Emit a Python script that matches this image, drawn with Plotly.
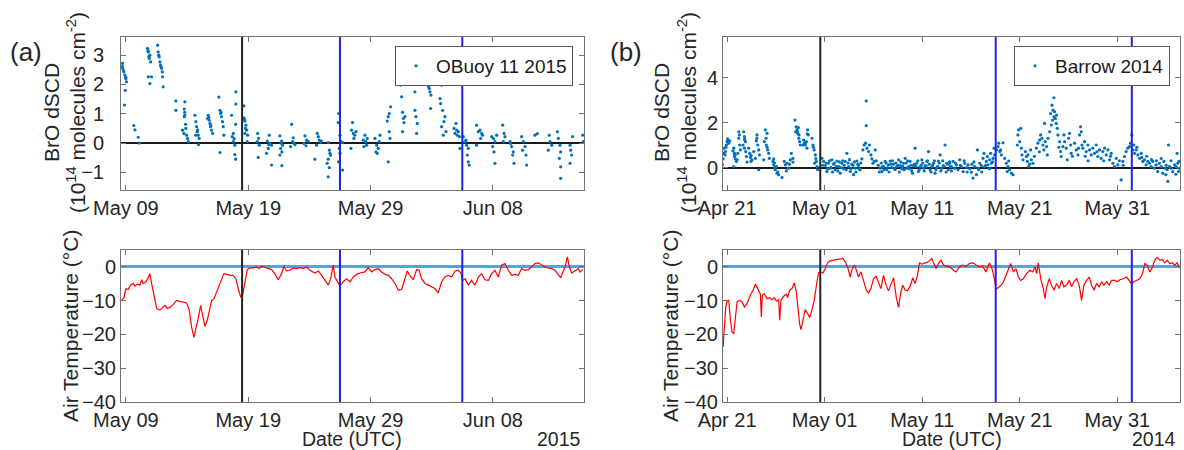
import pandas as pd
import plotly.graph_objects as go
from plotly.subplots import make_subplots

# ---------------- DATA ----------------
# Panel (a) OBuoy 11, 2015 -- day = days after 2015-04-30 00:00 (9.0 = May 09, 32.0 = Jun 01)
obuoy_base = "2015-04-30"
obuoy_bro = [  # (day, BrO dSCD in 1e14 molec/cm2)
    (8.73, 2.72), (8.73, 2.55), (8.84, 2.43), (8.92, 2.32), (9.0, 2.2), (9.05, 2.09), (8.95, 1.8), (8.89, 1.3),
    (8.70, 2.62), (8.80, 2.48), (8.98, 2.25),
    (9.65, 0.6), (9.74, 0.45), (10.01, 0.2), (10.09, 0.0),
    (10.77, 3.23), (10.83, 3.11), (10.96, 3.0), (10.91, 2.89), (11.02, 2.77), (10.83, 2.26), (11.1, 2.26),
    (10.96, 2.03), (10.80, 3.15), (10.88, 2.95),
    (11.59, 3.34), (11.64, 3.11), (11.72, 2.94), (11.78, 2.77), (11.83, 2.66), (11.92, 2.55), (11.97, 2.43),
    (12.0, 2.26), (12.05, 1.92), (11.68, 3.0), (11.88, 2.6),
    (13.09, 1.44), (13.09, 1.12),
    (13.82, 1.41), (13.77, 1.16), (13.82, 0.95), (13.77, 0.9), (13.88, 0.64), (13.63, 0.44), (13.74, 0.33),
    (13.96, 0.27), (14.04, 0.16), (14.1, 0.05), (13.8, 1.05), (13.9, 0.5),
    (14.64, 0.95), (14.72, 0.73), (14.78, 0.56), (14.83, 0.39), (14.91, 0.27), (14.99, 0.16), (14.94, -0.05),
    (14.72, 0.27), (14.86, 0.45),
    (15.73, 0.95), (15.81, 0.78), (15.87, 0.67), (15.92, 0.56), (16.0, 0.44), (16.09, 0.33), (15.68, 0.84),
    (15.78, 0.88), (15.95, 0.6),
    (16.6, 1.57), (16.69, 1.12), (16.74, 1.01), (16.82, 0.9), (16.9, 0.73), (16.96, 0.56), (17.01, 0.27),
    (16.69, -0.32), (16.78, 1.05),
    (17.99, 1.75), (17.99, 1.33), (17.97, 0.64), (17.78, 0.33), (17.69, 0.22), (17.78, 0.05), (17.91, -0.07),
    (17.91, -0.39), (17.97, -0.55), (17.64, 0.95), (17.85, 0.15),
    (18.65, 1.27), (18.65, 0.86), (18.73, 0.75), (18.81, 0.61), (18.87, 0.44), (18.73, 0.33), (18.95, 0.27),
    (18.92, 0.05), (18.7, 0.8), (18.78, 0.5),
    (19.77, 0.33), (19.85, 0.16), (19.74, 0.05), (19.9, -0.07), (19.82, -0.49),
    (20.72, 0.27), (20.56, 0.07), (20.77, -0.01), (20.91, -0.07), (20.64, -0.18), (20.5, -0.35), (20.91, -0.75),
    (20.68, -0.05),
    (21.59, 0.25), (21.73, 0.07), (21.81, -0.07), (21.65, -0.18), (21.75, -0.3), (21.59, -0.41), (21.75, -0.77),
    (21.68, 0.0),
    (22.55, 0.64), (22.68, 0.18), (22.63, 0.05), (22.82, -0.05), (22.46, -0.12), (22.74, 0.0),
    (23.64, 0.25), (23.77, 0.1), (23.55, -0.01), (23.91, 0.05), (23.72, -0.09), (24.45, -0.55),
    (24.64, 0.33), (24.73, 0.22), (24.81, 0.1), (24.92, 0.02), (24.59, -0.07), (24.98, 0.07),
    (25.54, 0.02), (25.63, -0.24), (25.68, -0.35), (25.54, -0.55), (25.46, -0.69), (25.63, -0.84),
    (25.54, -1.15), (25.73, -0.41),
    (26.39, 1.01), (26.36, 0.7), (26.5, 0.27), (26.55, 0.07), (26.72, 0.02), (26.44, -0.18), (26.5, -0.35),
    (26.39, -0.64), (26.72, -0.92),
    (27.45, 0.44), (27.59, 0.33), (27.72, 0.27), (27.64, 0.16), (27.81, 0.39), (27.53, 0.7), (27.4, -0.18),
    (28.54, 0.27), (28.41, 0.1), (28.62, 0.05), (28.68, -0.07), (28.46, -0.12), (28.73, 0.16),
    (29.36, 0.16), (29.5, -0.07), (29.63, -0.18), (29.44, -0.3), (29.77, 0.27), (29.71, 0.05), (29.55, -0.35),
    (30.64, 1.24), (30.53, 1.01), (30.45, 0.9), (30.37, 0.75), (30.53, 0.39), (30.59, 0.16), (30.45, -0.64),
    (31.4, 2.43), (31.46, 1.98), (31.54, 1.58), (31.62, 1.05), (31.68, 0.84), (31.73, 0.7), (31.62, 0.39),
    (31.81, 0.9),
    (32.49, 2.32), (32.55, 2.09), (32.63, 1.75), (32.63, 1.12), (32.71, 0.9), (32.77, 0.33), (32.82, 0.67),
    (32.44, 2.55),
    (33.64, 2.34), (33.99, 2.26), (33.72, 1.98), (33.8, 1.86), (33.86, 1.75), (33.94, 1.64), (33.75, 1.92),
    (33.91, 1.18), (33.58, 2.15),
    (34.81, 1.98), (34.68, 1.52), (34.73, 1.35), (34.89, 1.12), (35.08, 0.9), (35.0, 0.73), (34.81, 0.56),
    (34.95, 0.27), (35.17, 0.39),
    (35.98, 0.67), (35.82, 0.5), (36.04, 0.44), (36.17, 0.39), (35.9, 0.33), (36.26, 0.22), (36.09, 0.27),
    (36.31, -0.18),
    (36.58, 0.22), (36.72, 0.05), (36.85, -0.07), (36.99, -0.18), (36.91, -0.41), (36.99, -0.64), (37.07, -0.75),
    (36.8, 0.1),
    (37.67, 0.61), (37.95, 0.44), (38.08, 0.33), (38.16, 0.27), (38.0, 0.16), (37.81, 0.39), (37.67, -0.07),
    (38.9, 0.22), (39.04, 0.16), (39.17, 0.05), (38.98, -0.12), (39.09, -0.3), (39.17, -0.69), (39.31, 0.27),
    (39.8, 0.61), (39.91, 0.33), (39.99, 0.22), (39.85, 0.05),
    (40.4, 0.05), (40.53, -0.12), (40.67, -0.3), (40.62, -0.41), (40.73, -0.69), (40.45, -0.01),
    (41.35, 0.22), (41.49, 0.05), (41.63, -0.12), (41.43, -0.24), (41.71, -0.41), (41.76, -0.75),
    (42.44, 0.27), (42.63, 0.32),
    (43.61, 0.27), (43.67, 0.05), (43.53, -0.24), (43.81, -0.07),
    (44.27, 0.39), (44.35, 0.16), (44.49, -0.07), (44.54, -0.3), (44.43, -0.52), (44.54, -0.81), (44.54, -1.2),
    (45.31, -0.07), (45.36, -0.24), (45.44, -0.41), (45.31, -0.69), (45.52, 0.22),
    (46.35, 0.27), (46.4, 0.05),
]
obuoy_temp = [  # (day, air temperature degC)
    (8.65, -9.9), (8.84, -9.1), (9.0, -6.4), (9.19, -6.7), (9.38, -5.4), (9.6, -4.9), (9.74, -5.7), (9.92, -5.1),
    (10.14, -5.4), (10.28, -3.8), (10.41, -4.9), (10.64, -4.4), (10.82, -3.2), (10.96, -2.0), (11.1, -4.9),
    (11.29, -8.4), (11.51, -12.3), (11.78, -12.8), (12.0, -12.0), (12.19, -11.4), (12.38, -12.3), (12.6, -12.0),
    (12.87, -11.1), (13.15, -9.9), (13.42, -10.2), (13.69, -10.4), (13.96, -10.7), (14.18, -12.8), (14.37, -17.8),
    (14.56, -20.9), (14.78, -17.8), (14.94, -14.8), (15.11, -11.4), (15.27, -14.8), (15.46, -17.6), (15.65, -15.8),
    (15.81, -12.8), (16.01, -9.9), (16.2, -9.4), (16.41, -7.4), (16.63, -5.4), (16.82, -4.0), (17.01, -2.0),
    (17.23, -2.2), (17.5, -2.5), (17.77, -2.5), (17.99, -3.5), (18.18, -6.4), (18.38, -8.9), (18.54, -8.4),
    (18.73, -4.4), (18.92, -0.8), (19.14, -0.3), (19.41, -0.3), (19.69, 0.0), (19.9, -0.5), (20.09, 0.2),
    (20.36, -0.2), (20.64, -0.5), (20.91, -0.8), (21.18, -2.0), (21.45, -3.8), (21.73, -2.0), (21.92, 0.2),
    (22.14, -1.2), (22.41, -1.0), (22.68, -0.3), (22.96, -0.5), (23.23, -0.2), (23.5, -0.5), (23.78, 0.0),
    (24.05, -1.0), (24.45, -1.8), (24.73, -1.2), (25.0, -2.5), (25.27, -4.0), (25.55, -5.4), (25.74, -3.5),
    (25.95, 0.5), (26.09, -3.0), (26.28, -4.4), (26.5, -5.7), (26.77, -4.4), (27.04, -3.5), (27.32, -4.4),
    (27.59, -3.0), (27.86, -2.2), (28.13, -1.8), (28.54, -1.5), (28.81, -0.2), (29.09, -1.5), (29.36, -0.8),
    (29.63, -0.5), (29.9, -1.5), (30.18, -2.2), (30.45, -2.5), (30.72, -3.5), (31.0, -4.9), (31.27, -6.9),
    (31.54, -6.7), (31.81, -3.5), (32.0, -1.2), (32.22, -2.5), (32.49, -3.8), (32.77, -0.8), (32.98, -1.0),
    (33.17, -3.5), (33.45, -4.9), (33.72, -5.4), (33.99, -5.9), (34.26, -6.4), (34.54, -7.7), (34.81, -4.4),
    (35.08, -3.0), (35.35, -2.5), (35.63, -3.0), (35.9, -1.2), (36.17, -1.0), (36.39, -1.8), (36.53, -4.0),
    (36.72, -3.5), (36.99, -5.4), (37.26, -4.0), (37.54, -5.4), (37.81, -3.0), (38.08, -2.0), (38.35, -3.8),
    (38.63, -4.0), (38.9, -2.0), (39.17, -1.0), (39.44, -3.0), (39.72, 0.5), (39.99, 1.0), (40.26, -1.0),
    (40.53, -2.5), (40.81, -2.2), (41.08, -2.5), (41.35, -0.5), (41.62, -1.0), (41.9, -0.8), (42.17, 0.0),
    (42.44, 1.0), (42.71, 1.2), (42.99, 0.5), (43.26, 0.0), (43.53, -0.3), (43.8, -0.5), (44.08, -1.0),
    (44.35, -2.2), (44.54, -3.2), (44.76, -1.2), (44.9, 0.0), (45.09, 3.0), (45.25, 0.0), (45.44, -1.8),
    (45.72, -1.0), (45.99, -0.5), (46.12, -1.5), (46.34, -0.8),
]
obuoy_black_day = [18.5]
obuoy_blue_days = [26.5, 36.5]
obuoy_xrange_days = [8.6, 46.45]
obuoy_tick_dates = ["2015-05-09", "2015-05-19", "2015-05-29", "2015-06-08"]
obuoy_tick_text = ["May 09", "May 19", "May 29", "Jun 08"]

# Panel (b) Barrow 2014 -- day = days after 2014-04-30 00:00 (1.0 = May 01, -9.0 = Apr 21)
barrow_base = "2014-04-30"
barrow_bro = [
    (-9.41, 0.38), (-9.35, 0.63), (-9.28, 0.86), (-9.17, 0.71), (-9.07, 1.0), (-9.0, 1.15), (-8.94, 1.27),
    (-8.83, 1.08), (-8.73, 1.18), (-9.21, 0.56), (-9.48, 0.12), (-9.12, 0.9), (-8.88, 1.2),
    (-8.32, 0.86), (-8.25, 0.63), (-8.15, 0.38), (-8.05, 0.27), (-8.25, 0.49), (-8.39, 0.74), (-7.98, 0.34),
    (-8.32, 0.04), (-8.2, 0.55),
    (-7.81, 1.59), (-7.81, 1.3), (-7.71, 1.0), (-7.74, 1.45), (-7.64, 0.78), (-7.91, 0.63),
    (-7.3, 1.59), (-7.23, 1.37), (-7.13, 1.15), (-7.23, 0.86), (-7.09, 0.71), (-7.02, 0.49), (-6.96, 0.24),
    (-7.37, 1.0), (-7.2, 1.25),
    (-6.79, 0.86), (-6.68, 0.63), (-6.55, 0.53), (-6.45, 0.34), (-6.27, 0.71), (-6.55, 0.27), (-6.6, 0.45),
    (-5.93, 1.45), (-6.0, 1.18), (-5.86, 1.0), (-5.76, 0.78), (-5.69, 0.56), (-5.76, -0.1), (-6.1, 0.41),
    (-5.95, 1.3),
    (-5.08, 1.67), (-4.91, 1.52), (-5.18, 1.15), (-4.98, 1.0), (-4.84, 0.78), (-4.74, 0.63), (-5.25, 0.34),
    (-4.67, 0.41), (-5.0, 1.3), (-4.9, 0.9),
    (-4.3, 0.27), (-4.23, 0.12), (-4.12, 0.0), (-4.06, -0.1), (-3.89, -0.25), (-3.37, -0.44), (-3.72, -0.32),
    (-3.95, 0.04), (-4.23, 0.38), (-4.15, 0.2), (-3.8, -0.2),
    (-3.14, 0.27), (-3.03, 0.12), (-2.86, 0.19), (-2.69, -0.03), (-2.52, 0.34), (-2.42, 0.63), (-2.93, -0.15),
    (-2.25, 0.41), (-2.25, 0.24), (-2.6, 0.15),
    (-2.04, 2.11), (-1.91, 1.81), (-1.84, 1.67), (-1.77, 1.52), (-1.63, 1.45), (-1.57, 1.15), (-1.5, 1.0),
    (-1.98, 1.59), (-1.7, 1.77), (-1.8, 1.6), (-1.65, 1.3),
    (-1.16, 1.22), (-1.09, 1.08), (-0.99, 1.0), (-0.88, 1.15), (-0.75, 1.67), (-0.68, 1.45), (-0.82, 0.86),
    (-1.22, 1.0), (-0.95, 1.1), (-0.78, 1.5),
    (-0.3, 1.3), (-0.2, 1.0), (-0.07, 0.78), (0.04, 0.56), (0.14, 0.27), (0.21, 0.04), (0.28, -0.1),
    (-0.03, 0.19), (-0.15, 0.9), (0.1, 0.4),
    (0.72, 0.41), (0.89, 0.27), (1.06, 0.09), (1.23, -0.18), (1.4, 0.19), (1.57, -0.03), (1.74, 0.34),
    (1.91, 0.15), (2.08, -0.1), (2.26, 0.29), (2.43, 0.04), (2.6, -0.25), (2.77, 0.19), (2.94, -0.06),
    (3.11, 0.27), (3.28, 0.63), (3.45, 0.04), (3.62, -0.18), (3.79, 0.15), (3.96, -0.32), (4.13, -0.03),
    (4.3, 0.29), (4.47, 0.09), (4.64, -0.1), (4.81, 0.38), (4.92, 0.78), (5.05, 1.0), (5.19, 1.08),
    (5.26, 1.86), (5.26, 2.96), (5.33, 0.86), (5.5, 0.71), (5.6, 1.0), (5.74, 0.56), (5.84, 0.38),
    (5.94, 0.19), (6.08, 0.27), (6.18, 0.78),
    (6.69, -0.03), (6.86, -0.18), (7.03, 0.04), (7.2, 0.27), (7.37, -0.1), (7.54, 0.12), (7.71, 0.29),
    (7.88, 0.0), (8.06, 0.15), (8.23, -0.1), (8.4, 0.04), (8.57, 0.34), (8.74, 0.09), (8.91, -0.06),
    (9.08, 0.19), (9.25, 0.41), (9.42, -0.03), (9.59, 0.04), (9.76, 0.27), (9.93, -0.15), (10.1, 0.09),
    (10.27, 0.86), (10.44, 0.19), (10.61, -0.18), (10.79, 0.04), (10.96, 0.34), (11.13, -0.03), (11.3, 0.09),
    (11.47, 0.27), (11.64, 0.71), (11.81, -0.1), (11.98, 0.04), (12.15, 0.19), (12.32, -0.25), (12.49, 0.0),
    (12.66, 0.29), (12.83, 0.56), (13.0, -0.03), (13.17, 0.09), (13.34, 1.0), (13.51, 0.19), (13.68, -0.1),
    (13.86, 0.04),
    (0.8, 0.1), (1.15, 0.2), (1.3, -0.05), (1.5, 0.3), (1.65, 0.0), (1.8, -0.2), (2.0, 0.2), (2.2, 0.05),
    (2.35, -0.15), (2.5, 0.25), (2.7, 0.0), (2.85, 0.3), (3.0, 0.1), (3.2, -0.1), (3.4, 0.2), (3.55, 0.35),
    (3.7, -0.05), (3.9, 0.1), (4.05, 0.25), (4.2, -0.2), (4.4, 0.15), (4.55, -0.05), (4.7, 0.2),
    (6.3, 0.3), (6.5, 0.1), (6.6, -0.2), (6.8, 0.2), (6.95, 0.05), (7.1, -0.1), (7.3, 0.2), (7.45, 0.0),
    (7.6, -0.2), (7.8, 0.15), (7.95, 0.3), (8.15, -0.05), (8.3, 0.2), (8.5, 0.1), (8.65, -0.2), (8.8, 0.25),
    (9.0, 0.05), (9.15, -0.1), (9.35, 0.2), (9.5, 0.3), (9.7, -0.05), (9.85, 0.1), (10.0, -0.25), (10.2, 0.15),
    (10.35, 0.05), (10.55, 0.3), (10.7, -0.1), (10.9, 0.1), (11.05, 0.2), (11.2, -0.15), (11.4, 0.05),
    (11.55, 0.3), (11.7, 0.15), (11.9, -0.2), (12.05, 0.1), (12.25, 0.3), (12.4, -0.1), (12.6, 0.05),
    (12.75, 0.2), (12.9, -0.15), (13.1, 0.3), (13.25, 0.05), (13.45, -0.2), (13.6, 0.15), (13.8, 0.25),
    (13.82, 0.19), (13.99, 0.04), (14.16, 0.27), (14.33, -0.03), (14.5, 0.12), (14.67, -0.1), (14.84, 0.34),
    (15.01, 0.04), (15.19, -0.18), (15.36, 0.19), (15.53, 0.0), (15.7, 0.12), (15.87, -0.06), (16.04, -0.21),
    (16.21, -0.47), (16.38, 0.04), (16.55, -0.32), (16.65, 0.78), (16.72, -0.03), (16.89, 0.19), (17.06, 0.09),
    (17.23, 0.41), (17.33, 0.63), (17.4, 0.04), (17.57, 0.27), (17.68, 0.49), (17.74, 0.12), (17.91, 0.34),
    (18.02, 0.63), (18.09, 0.19), (18.26, 0.41), (18.36, 0.86), (18.43, 0.56),
    (14.0, -0.15), (14.4, 0.2), (14.9, 0.1), (15.3, 0.3), (15.6, -0.2), (16.1, 0.15), (16.3, 0.25),
    (16.8, -0.1), (17.1, -0.2), (17.5, 0.1), (17.9, -0.05), (18.2, 0.25),
    (18.6, 0.78), (18.77, 0.93), (18.84, 1.08), (18.94, 0.71), (19.04, 0.78), (19.11, 0.56), (19.28, 1.1),
    (19.45, 0.41),
    (19.62, 0.19), (19.79, 0.04), (19.96, -0.1), (20.13, -0.25), (19.86, 0.29), (20.3, -0.32), (19.72, -0.18),
    (20.81, 1.45), (20.88, 1.67), (20.99, 1.15), (21.09, 1.74), (21.16, 0.86), (21.22, 0.56), (20.75, 1.0),
    (21.33, 0.34),
    (21.57, 0.71), (21.67, 0.49), (21.77, 0.27), (21.91, 0.04), (22.01, 0.15), (22.18, 0.34), (22.35, 0.19),
    (21.84, 0.56), (22.11, 0.78),
    (22.69, 0.86), (22.86, 1.08), (23.03, 1.22), (23.13, 1.45), (23.27, 1.3), (23.37, 1.0), (23.48, 0.78),
    (23.54, 1.96), (23.61, 1.15), (23.75, 0.93), (23.89, 1.3), (23.82, 0.56),
    (24.16, 2.4), (24.3, 2.77), (24.4, 2.55), (24.5, 3.1), (24.57, 2.48), (24.64, 2.18), (24.74, 1.96),
    (24.84, 1.74), (24.91, 1.45), (24.36, 2.11), (24.5, 2.26), (24.23, 1.89), (24.06, 1.59), (24.77, 2.33),
    (25.08, 1.15), (25.18, 0.71), (25.25, 0.49), (25.42, 0.93), (25.52, 1.45), (25.59, 1.15), (25.76, 0.86),
    (25.86, 0.34), (26.0, 1.3), (26.1, 1.52), (26.21, 1.0), (26.27, 0.63),
    (26.61, 1.08), (26.79, 0.78), (26.96, 0.56), (27.13, 1.45), (27.23, 1.81), (27.3, 1.59), (27.02, 0.86),
    (27.37, 1.0),
    (27.47, 0.86), (27.64, 1.15), (27.81, 0.71), (27.98, 1.0), (28.15, 0.78), (28.32, 0.56), (28.49, 0.86),
    (28.66, 0.63), (28.83, 1.0), (29.0, 0.49),
    (29.17, 0.78), (29.34, 0.41), (29.51, 0.71), (29.69, 0.86), (29.86, 0.56), (30.03, 0.78), (30.2, 0.34),
    (30.37, 0.63), (30.54, 0.19), (30.71, 0.04), (30.88, 0.41), (31.05, 0.12), (31.39, -0.55),
    (31.56, 0.27), (31.73, 0.49), (31.9, 0.71), (32.07, 0.86), (32.24, 0.93), (32.35, 1.08), (32.48, 1.45),
    (32.59, 0.78), (32.69, 1.0), (32.76, 0.63),
    (32.93, 0.78), (33.1, 0.56), (33.27, 0.41), (33.44, 0.63), (33.61, 0.27), (33.78, 0.34), (33.95, 0.12),
    (34.12, 0.27),
    (34.29, 0.19), (34.46, 0.04), (34.63, 0.27), (34.8, -0.03), (34.97, 0.12), (35.14, -0.18), (35.31, 0.19),
    (35.49, 0.04), (35.66, -0.25), (35.76, 0.27), (35.89, -0.03), (35.98, -0.32), (36.17, -0.62), (36.24, 1.0),
    (36.1, -0.1), (36.34, 0.04),
    (36.51, -0.03), (36.68, -0.18), (36.85, 0.12), (37.02, 0.04), (37.19, 0.19), (37.36, -0.03), (37.3, 0.27),
    (37.12, 0.63), (37.26, -0.18),
    (22.5, 0.5), (23.0, 0.7), (25.0, 0.9), (26.4, 0.5), (27.7, 0.5), (28.0, 0.3), (28.9, 0.7), (29.6, 0.3),
    (30.3, 0.5), (31.2, 0.3), (31.6, 0.1), (33.0, 0.9), (33.5, 0.45), (34.0, 0.5), (34.5, 0.35), (35.0, 0.3),
    (35.5, 0.4), (36.0, 0.1), (36.5, 0.3), (37.0, -0.3),
]
barrow_temp = [
    (-9.41, -23.7), (-9.28, -17.8), (-9.14, -11.9), (-9.0, -10.1), (-8.83, -9.9), (-8.66, -15.8), (-8.49, -19.3),
    (-8.32, -19.8), (-8.15, -15.8), (-7.98, -10.4), (-7.71, -9.9), (-7.47, -10.4), (-7.23, -11.9), (-6.96, -10.9),
    (-6.62, -8.4), (-6.34, -6.9), (-6.1, -5.1), (-5.86, -6.4), (-5.59, -8.1), (-5.49, -14.8), (-5.39, -8.4),
    (-5.18, -7.9), (-4.91, -9.4), (-4.64, -9.1), (-4.4, -9.7), (-4.16, -9.1), (-3.95, -10.1), (-3.71, -9.7),
    (-3.61, -15.8), (-3.48, -9.9), (-3.2, -8.7), (-2.93, -8.1), (-2.79, -9.1), (-2.59, -6.9), (-2.35, -6.4),
    (-2.11, -4.7), (-1.91, -7.4), (-1.74, -11.9), (-1.57, -16.8), (-1.43, -18.6), (-1.23, -15.6), (-0.99, -12.6),
    (-0.75, -13.8), (-0.54, -15.0), (-0.3, -12.8), (-0.07, -9.9), (0.21, -4.4), (0.38, -1.8), (0.55, -1.5),
    (0.82, -1.8), (1.06, -0.5), (1.3, 1.2), (1.57, 1.8), (1.91, 2.0), (2.26, 2.0), (2.6, 2.2), (2.87, 2.5),
    (3.11, 1.5), (3.35, 0.0), (3.62, -3.0), (3.79, -0.8), (4.03, 0.5), (4.23, -0.8), (4.47, -3.0), (4.71, -1.5),
    (4.98, -4.0), (5.26, -6.9), (5.5, -7.7), (5.74, -6.4), (6.01, -3.5), (6.28, -2.8), (6.52, -4.7),
    (6.76, -6.4), (7.03, -2.5), (7.3, -5.4), (7.54, -7.1), (7.78, -5.4), (8.06, -3.2), (8.33, -8.9),
    (8.57, -12.0), (8.81, -7.4), (9.01, -5.4), (9.25, -6.9), (9.49, -7.1), (9.76, -5.7), (10.03, -3.2),
    (10.27, -4.9), (10.51, -2.5), (10.72, 1.2), (10.96, 0.8), (11.3, 1.2), (11.64, 1.5), (11.98, 2.5),
    (12.22, 1.0), (12.42, -0.5), (12.66, 1.0), (12.93, 2.0), (13.17, 0.5), (13.51, 0.2), (13.86, 0.0),
    (14.2, -1.0), (14.47, -1.5), (14.81, 0.0), (15.15, 0.5), (15.49, 0.2), (15.83, 1.0), (16.18, 1.2),
    (16.52, 0.5), (16.86, 0.0), (17.2, 0.2), (17.54, -1.5), (17.88, 1.2), (18.15, -0.5), (18.36, -3.0),
    (18.56, -6.7), (18.9, -5.9), (19.25, -4.9), (19.59, -2.5), (19.83, -1.0), (20.07, 1.0), (20.34, -1.5),
    (20.61, -0.5), (20.85, -3.0), (21.09, -4.0), (21.36, -3.5), (21.7, -2.0), (22.04, -1.0), (22.32, -1.5),
    (22.56, 0.0), (22.73, -2.0), (22.9, 1.2), (23.14, -3.5), (23.41, -6.4), (23.58, -9.4), (23.75, -5.9),
    (24.02, -3.5), (24.26, -5.4), (24.5, -6.9), (24.77, -4.9), (25.05, -6.4), (25.29, -4.0), (25.52, -5.9),
    (25.8, -5.4), (26.07, -4.0), (26.31, -5.9), (26.55, -4.4), (26.82, -3.5), (27.09, -5.4), (27.33, -9.9),
    (27.57, -5.4), (27.84, -4.0), (28.12, -3.0), (28.36, -5.4), (28.6, -6.9), (28.87, -4.9), (29.14, -5.9),
    (29.38, -4.4), (29.62, -5.4), (29.89, -4.4), (30.16, -5.4), (30.4, -4.0), (30.74, -4.0), (30.98, -4.4),
    (31.26, -3.8), (31.6, -3.5), (31.94, -3.0), (32.21, -4.0), (32.45, -5.1), (32.69, -4.4), (32.96, -4.0),
    (33.3, -3.5), (33.58, -2.0), (33.82, 1.0), (34.05, 0.5), (34.33, -1.5), (34.6, 0.0), (34.84, 2.0),
    (35.08, 2.8), (35.35, 2.0), (35.62, 2.2), (35.86, 1.2), (36.1, 2.0), (36.37, 1.0), (36.65, 1.2),
    (36.88, 0.5), (37.12, 1.2), (37.33, 0.0),
]
barrow_black_day = [0.55]
barrow_blue_days = [18.53, 32.48]
barrow_xrange_days = [-9.42, 37.42]
barrow_tick_dates = ["2014-04-21", "2014-05-01", "2014-05-11", "2014-05-21", "2014-05-31"]
barrow_tick_text = ["Apr 21", "May 01", "May 11", "May 21", "May 31"]

bro_yrange_a = [-1.6, 3.62]
bro_yticks_a = [-1, 0, 1, 2, 3]
bro_yrange_b = [-1.0, 5.8]
bro_yticks_b = [0, 2, 4]
temp_yrange = [-40, 5]
temp_yticks = [0, -10, -20, -30, -40]


def to_dates(base, days):
    return pd.Timestamp(base) + pd.to_timedelta(list(days), unit="D")


def unzip(pairs):
    return [p[0] for p in pairs], [p[1] for p in pairs]


# ---------------- FIGURE ----------------
FONT = "Liberation Sans, Arial, Helvetica, sans-serif"
TXT = "#262626"
FRAME = "#737373"
MARK = "#0072BD"

fig = make_subplots(rows=2, cols=2)

d, v = unzip(obuoy_bro)
fig.add_trace(go.Scatter(x=to_dates(obuoy_base, d), y=v, mode="markers", name="OBuoy 11 2015",
                         marker=dict(color=MARK, size=3.2), legend="legend"), row=1, col=1)
d, v = unzip(obuoy_temp)
fig.add_trace(go.Scatter(x=to_dates(obuoy_base, d), y=v, mode="lines", showlegend=False,
                         line=dict(color="#ff0000", width=1.2)), row=2, col=1)
d, v = unzip(barrow_bro)
fig.add_trace(go.Scatter(x=to_dates(barrow_base, d), y=v, mode="markers", name="Barrow 2014",
                         marker=dict(color=MARK, size=3.2), legend="legend2"), row=1, col=2)
d, v = unzip(barrow_temp)
fig.add_trace(go.Scatter(x=to_dates(barrow_base, d), y=v, mode="lines", showlegend=False,
                         line=dict(color="#ff0000", width=1.2)), row=2, col=2)

W, H = 1184, 450
xa_dom = [121 / W, 584 / W]
xb_dom = [723 / W, 1180 / W]
top_dom = [1 - 190 / H, 1 - 37 / H]
bot_dom = [1 - 402 / H, 1 - 250 / H]

common = dict(showline=True, linecolor=FRAME, linewidth=1, mirror="ticks", ticks="inside",
              ticklen=5, tickcolor=FRAME, showgrid=False, automargin=False,
              tickfont=dict(family=FONT, size=20, color=TXT))

oa_range = [str(t) for t in to_dates(obuoy_base, obuoy_xrange_days)]
ba_range = [str(t) for t in to_dates(barrow_base, barrow_xrange_days)]

fig.update_layout(
    xaxis=dict(common, domain=xa_dom, type="date", range=oa_range, tickvals=obuoy_tick_dates,
               ticktext=obuoy_tick_text, zeroline=False),
    xaxis3=dict(common, domain=xa_dom, type="date", range=oa_range, tickvals=obuoy_tick_dates,
                ticktext=obuoy_tick_text, zeroline=False),
    xaxis2=dict(common, domain=xb_dom, type="date", range=ba_range, tickvals=barrow_tick_dates,
                ticktext=barrow_tick_text, zeroline=False),
    xaxis4=dict(common, domain=xb_dom, type="date", range=ba_range, tickvals=barrow_tick_dates,
                ticktext=barrow_tick_text, zeroline=False),
    yaxis=dict(common, domain=top_dom, range=bro_yrange_a, tickvals=bro_yticks_a, zeroline=True,
               zerolinecolor="#1a1a1a", zerolinewidth=1.5, ticklabelstandoff=12),
    yaxis2=dict(common, domain=top_dom, range=bro_yrange_b, tickvals=bro_yticks_b, zeroline=True,
                zerolinecolor="#1a1a1a", zerolinewidth=1.5),
    yaxis3=dict(common, domain=bot_dom, range=temp_yrange, tickvals=temp_yticks, zeroline=True,
                zerolinecolor="#5aa2dc", zerolinewidth=2.5),
    yaxis4=dict(common, domain=bot_dom, range=temp_yrange, tickvals=temp_yticks, zeroline=True,
                zerolinecolor="#5aa2dc", zerolinewidth=2.5),
)

# event lines
def vline(xref, yref, x, color):
    fig.add_shape(type="line", xref=xref, yref=yref, x0=x, x1=x, y0=0, y1=1,
                  line=dict(color=color, width=2), layer="above")

for xr, yr in (("x", "y domain"), ("x3", "y3 domain")):
    for t in to_dates(obuoy_base, obuoy_black_day):
        vline(xr, yr, t, "#222222")
    for t in to_dates(obuoy_base, obuoy_blue_days):
        vline(xr, yr, t, "#2020e6")
for xr, yr in (("x2", "y2 domain"), ("x4", "y4 domain")):
    for t in to_dates(barrow_base, barrow_black_day):
        vline(xr, yr, t, "#222222")
    for t in to_dates(barrow_base, barrow_blue_days):
        vline(xr, yr, t, "#2020e6")

legend_style = dict(bordercolor="#555555", borderwidth=1, bgcolor="white", xanchor="right", yanchor="top",
                    font=dict(family=FONT, size=19, color="#1a1a1a"), itemwidth=30)
fig.update_layout(
    legend=dict(legend_style, x=573 / W, y=1 - 46 / H),
    legend2=dict(legend_style, x=1170 / W, y=1 - 46 / H),
)

def ann(text, px, py, size=20, angle=0, xanchor="center"):
    fig.add_annotation(text=text, x=px / W, y=1 - py / H, xref="paper", yref="paper", showarrow=False,
                       textangle=angle, xanchor=xanchor, yanchor="middle",
                       font=dict(family=FONT, size=size, color=TXT))

ann("(a)", 26, 52, size=26)
ann("(b)", 626, 52, size=26)
ann("BrO dSCD", 52, 113, size=21, angle=-90)
ann("(10<sup>14</sup> molecules cm<sup>-2</sup>)", 76, 113, size=21, angle=-90)
ann("Air Temperature (°C)", 70, 326, size=21, angle=-90)
ann("BrO dSCD", 662, 113, size=21, angle=-90)
ann("(10<sup>14</sup> molecules cm<sup>-2</sup>)", 687, 113, size=21, angle=-90)
ann("Air Temperature (°C)", 670, 326, size=21, angle=-90)
ann("Date (UTC)", 352, 438.5, size=19.5)
ann("Date (UTC)", 952, 438.5, size=19.5)
ann("2015", 583, 438.5, size=19.5, xanchor="right")
ann("2014", 1178, 438.5, size=19.5, xanchor="right")

fig.update_layout(width=W, height=H, margin=dict(l=0, r=0, t=0, b=0, autoexpand=False),
                  paper_bgcolor="white", plot_bgcolor="white", font=dict(family=FONT, color=TXT))

fig.write_html("out.html", config={"displayModeBar": False},
               post_script="document.body.style.margin='0';document.body.style.overflow='hidden';")
